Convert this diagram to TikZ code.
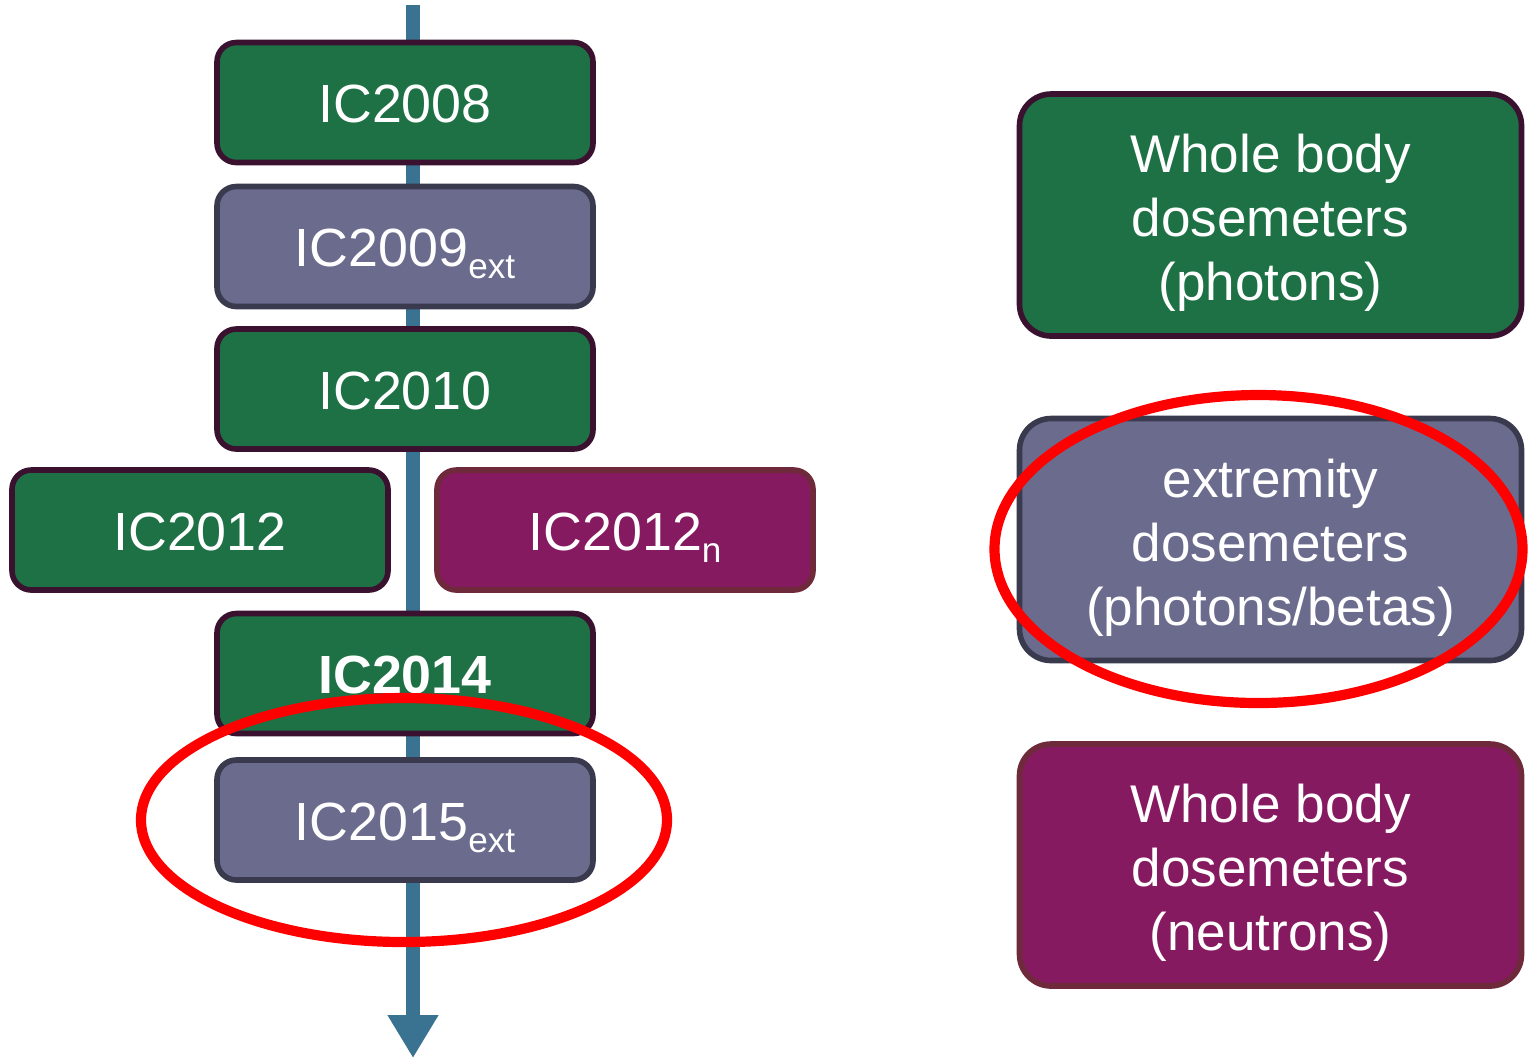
\documentclass[tikz,border=0pt]{standalone}
\usepackage{fontspec}
\setmainfont{Liberation Sans}
\usepackage{tikz}
\usetikzlibrary{arrows.meta}

\definecolor{icgreen}{HTML}{1E7145}
\definecolor{icgrey}{HTML}{6B6B8E}
\definecolor{icmagenta}{HTML}{861A60}
\definecolor{icline}{HTML}{3A7391}
\definecolor{edgegreen}{HTML}{3A1230}
\definecolor{edgegrey}{HTML}{3A3A4E}
\definecolor{edgemagenta}{HTML}{6E2A3A}

\newcommand{\lowtext}[1]{\raisebox{-3.4pt}{\fontsize{10}{10}\selectfont #1}}
\newcommand{\tallline}{\rule{0pt}{15.5pt}}

\tikzset{
    icbox/.style={rounded corners=5.5pt, line width=1.6pt, text=white,
        minimum width=3.76cm, minimum height=1.2cm, inner sep=0pt,
        text height=11.5pt, text depth=0pt,
        font=\fontsize{15.3}{15.3}\selectfont},
    bigbox/.style={rounded corners=9pt, line width=1.6pt, text=white,
        minimum width=5.02cm, minimum height=2.42cm, inner sep=0pt,
        align=center, font=\fontsize{15.1}{18.2}\selectfont},
    greenbox/.style={fill=icgreen, draw=edgegreen},
    greybox/.style={fill=icgrey, draw=edgegrey},
    magentabox/.style={fill=icmagenta, draw=edgemagenta},
    ring/.style={draw=red, line width=2.9pt}
}

\begin{document}
\begin{tikzpicture}

                    \useasboundingbox (0,0) rectangle (15.33,-10.58);

                    \coordinate (top) at (4.13,-0.05);
                    \coordinate (bottom) at (4.13,-10.58);
                    \draw[icline, line width=4pt, -{Triangle[width=0.48cm,length=0.43cm]}] (top) -- (bottom);

                    \node[icbox, greenbox] (ic08) at (4.05,-1.025) {IC2008};
                    \node[icbox, greybox] (ic09) at (4.05,-2.465) {IC2009\lowtext{ext}};
                    \node[icbox, greenbox] (ic10) at (4.05,-3.89) {IC2010};
                    \node[icbox, greenbox] (ic12) at (2.0,-5.30) {IC2012};
                    \node[icbox, magentabox] (ic12n) at (6.25,-5.30) {IC2012\lowtext{n}};
                    \node[icbox, greenbox, font=\fontsize{15.3}{15.3}\selectfont\bfseries] (ic14) at (4.05,-6.735) {IC2014};
                    \node[icbox, greybox] (ic15) at (4.05,-8.20) {IC2015\lowtext{ext}};

                    \node[bigbox, greenbox] (wbp) at (12.705,-2.15) {\tallline Whole body\\dosemeters\\(photons)};
                    \node[bigbox, greybox] (ext) at (12.705,-5.395) {\tallline extremity\\dosemeters\\(photons/betas)};
                    \node[bigbox, magentabox] (wbn) at (12.705,-8.65) {\tallline Whole body\\dosemeters\\(neutrons)};

                    \draw[ring] (ic15.center) ++(-0.01,0) ellipse (2.63cm and 1.22cm);
                    \draw[ring] (ext.center) ++(-0.12,-0.095) ellipse (2.64cm and 1.54cm);

                \end{tikzpicture}
\end{document}
